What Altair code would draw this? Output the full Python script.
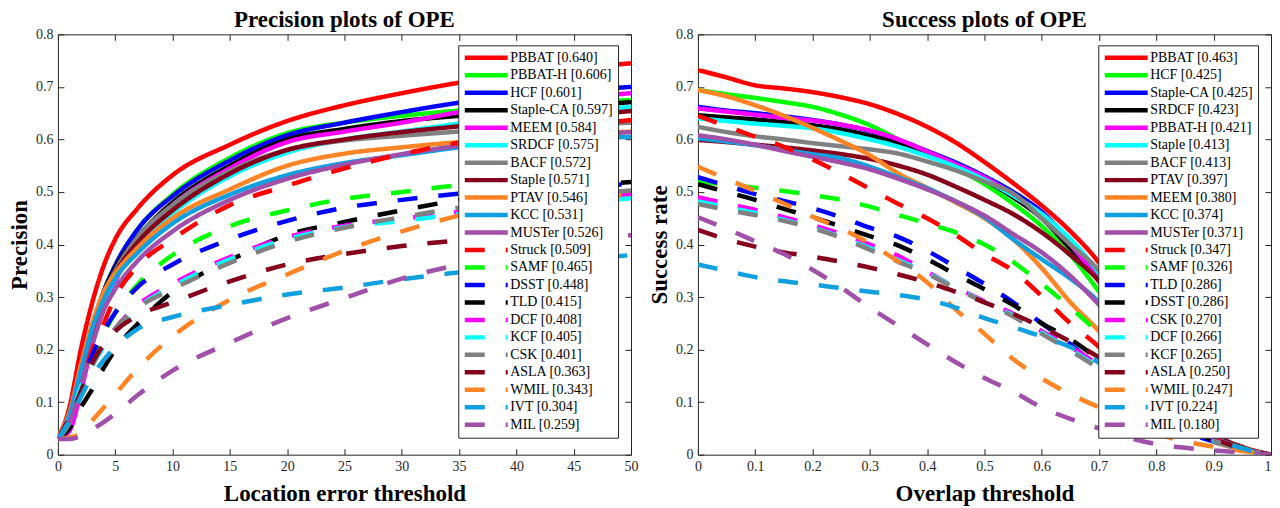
import altair as alt
import pandas as pd

FONT = "Liberation Serif"
INK = "#262626"

# ---------------- Precision plot data ----------------
prec_thresholds = [0, 1, 2, 3, 4, 5, 7, 10, 15, 20, 25, 30, 35, 50]
prec_names = ["PBBAT [0.640]", "PBBAT-H [0.606]", "HCF [0.601]", "Staple-CA [0.597]",
              "MEEM [0.584]", "SRDCF [0.575]", "BACF [0.572]", "Staple [0.571]",
              "PTAV [0.546]", "KCC [0.531]", "MUSTer [0.526]", "Struck [0.509]",
              "SAMF [0.465]", "DSST [0.448]", "TLD [0.415]", "DCF [0.408]",
              "KCF [0.405]", "CSK [0.401]", "ASLA [0.363]", "WMIL [0.343]",
              "IVT [0.304]", "MIL [0.259]"]
p_PBBAT = [0.03, 0.09, 0.20, 0.29, 0.36, 0.41, 0.47, 0.532, 0.59, 0.635, 0.665, 0.688, 0.708, 0.745]
p_PBBATH = [0.03, 0.075, 0.16, 0.24, 0.31, 0.36, 0.43, 0.495, 0.565, 0.612, 0.632, 0.645, 0.655, 0.675]
p_HCF = [0.03, 0.07, 0.15, 0.24, 0.31, 0.36, 0.43, 0.492, 0.56, 0.608, 0.632, 0.652, 0.67, 0.70]
p_StapleCA = [0.03, 0.07, 0.15, 0.24, 0.31, 0.355, 0.415, 0.48, 0.55, 0.60, 0.62, 0.635, 0.645, 0.671]
p_MEEM = [0.03, 0.045, 0.12, 0.21, 0.28, 0.33, 0.41, 0.475, 0.545, 0.595, 0.615, 0.632, 0.652, 0.688]
p_SRDCF = [0.03, 0.07, 0.15, 0.23, 0.29, 0.335, 0.40, 0.46, 0.53, 0.575, 0.60, 0.615, 0.63, 0.662]
p_BACF = [0.03, 0.075, 0.16, 0.24, 0.305, 0.35, 0.415, 0.475, 0.54, 0.58, 0.598, 0.607, 0.615, 0.632]
p_Staple = [0.03, 0.07, 0.15, 0.23, 0.30, 0.345, 0.405, 0.465, 0.535, 0.58, 0.60, 0.614, 0.625, 0.654]
p_PTAV = [0.035, 0.08, 0.17, 0.25, 0.31, 0.345, 0.395, 0.45, 0.505, 0.55, 0.573, 0.585, 0.595, 0.615]
p_KCC = [0.03, 0.075, 0.16, 0.24, 0.295, 0.335, 0.385, 0.44, 0.495, 0.532, 0.555, 0.57, 0.585, 0.605]
p_MUSTer = [0.03, 0.06, 0.13, 0.21, 0.275, 0.315, 0.37, 0.425, 0.485, 0.525, 0.552, 0.572, 0.588, 0.614]
p_Struck = [0.03, 0.07, 0.13, 0.20, 0.25, 0.30, 0.36, 0.41, 0.475, 0.512, 0.545, 0.572, 0.594, 0.637]
p_SAMF = [0.03, 0.06, 0.12, 0.18, 0.23, 0.27, 0.325, 0.38, 0.435, 0.465, 0.487, 0.50, 0.513, 0.536]
p_DSST = [0.03, 0.07, 0.13, 0.19, 0.235, 0.27, 0.32, 0.362, 0.41, 0.445, 0.47, 0.485, 0.497, 0.515]
p_TLD = [0.03, 0.05, 0.09, 0.125, 0.165, 0.20, 0.25, 0.31, 0.37, 0.418, 0.443, 0.465, 0.485, 0.519]
p_DCF = [0.03, 0.065, 0.13, 0.175, 0.21, 0.24, 0.285, 0.325, 0.376, 0.414, 0.436, 0.449, 0.462, 0.495]
p_KCF = [0.03, 0.065, 0.13, 0.17, 0.205, 0.235, 0.28, 0.32, 0.372, 0.41, 0.433, 0.445, 0.458, 0.488]
p_CSK = [0.03, 0.06, 0.12, 0.17, 0.21, 0.24, 0.28, 0.315, 0.365, 0.405, 0.432, 0.452, 0.47, 0.503]
p_ASLA = [0.03, 0.07, 0.12, 0.175, 0.21, 0.235, 0.265, 0.29, 0.33, 0.362, 0.382, 0.397, 0.408, 0.439]
p_WMIL = [0.03, 0.033, 0.04, 0.065, 0.09, 0.115, 0.165, 0.225, 0.295, 0.343, 0.388, 0.425, 0.455, 0.495]
p_IVT = [0.03, 0.065, 0.11, 0.15, 0.18, 0.205, 0.24, 0.262, 0.285, 0.305, 0.318, 0.334, 0.347, 0.38]
p_MIL = [0.03, 0.03, 0.035, 0.048, 0.062, 0.078, 0.114, 0.16, 0.213, 0.26, 0.298, 0.335, 0.362, 0.418]
prec_series = [p_PBBAT, p_PBBATH, p_HCF, p_StapleCA, p_MEEM, p_SRDCF, p_BACF, p_Staple,
               p_PTAV, p_KCC, p_MUSTer, p_Struck, p_SAMF, p_DSST, p_TLD, p_DCF, p_KCF,
               p_CSK, p_ASLA, p_WMIL, p_IVT, p_MIL]

# ---------------- Success plot data ----------------
succ_thresholds = [0.0, 0.05, 0.1, 0.15, 0.2, 0.25, 0.3, 0.35, 0.4, 0.45, 0.5,
                   0.55, 0.6, 0.65, 0.7, 0.75, 0.8, 0.85, 0.9, 0.95, 1.0]
succ_names = ["PBBAT [0.463]", "HCF [0.425]", "Staple-CA [0.425]", "SRDCF [0.423]",
              "PBBAT-H [0.421]", "Staple [0.413]", "BACF [0.413]", "PTAV [0.397]",
              "MEEM [0.380]", "KCC [0.374]", "MUSTer [0.371]", "Struck [0.347]",
              "SAMF [0.326]", "TLD [0.286]", "DSST [0.286]", "CSK [0.270]",
              "DCF [0.266]", "KCF [0.265]", "ASLA [0.250]", "WMIL [0.247]",
              "IVT [0.224]", "MIL [0.180]"]
s_PBBAT = [0.732, 0.718, 0.703, 0.697, 0.69, 0.68, 0.667, 0.648, 0.624, 0.594, 0.557, 0.517, 0.474, 0.425, 0.365, 0.28, 0.19, 0.10, 0.04, 0.015, 0.0]
s_HCF = [0.694, 0.686, 0.679, 0.671, 0.662, 0.647, 0.627, 0.60, 0.572, 0.545, 0.515, 0.478, 0.435, 0.38, 0.31, 0.23, 0.15, 0.08, 0.035, 0.012, 0.0]
s_StapleCA = [0.662, 0.655, 0.65, 0.644, 0.637, 0.628, 0.616, 0.599, 0.578, 0.556, 0.53, 0.50, 0.462, 0.405, 0.335, 0.25, 0.16, 0.085, 0.037, 0.013, 0.0]
s_SRDCF = [0.646, 0.642, 0.638, 0.633, 0.627, 0.619, 0.607, 0.593, 0.576, 0.552, 0.523, 0.49, 0.45, 0.392, 0.335, 0.25, 0.165, 0.09, 0.04, 0.013, 0.0]
s_PBBATH = [0.659, 0.653, 0.647, 0.641, 0.636, 0.628, 0.617, 0.60, 0.577, 0.553, 0.528, 0.495, 0.455, 0.40, 0.33, 0.245, 0.16, 0.085, 0.037, 0.013, 0.0]
s_Staple = [0.64, 0.635, 0.63, 0.626, 0.621, 0.612, 0.60, 0.586, 0.568, 0.548, 0.523, 0.493, 0.458, 0.41, 0.345, 0.26, 0.17, 0.09, 0.04, 0.014, 0.0]
s_BACF = [0.624, 0.614, 0.606, 0.60, 0.593, 0.587, 0.581, 0.573, 0.558, 0.541, 0.52, 0.497, 0.45, 0.40, 0.35, 0.27, 0.18, 0.095, 0.04, 0.014, 0.0]
s_PTAV = [0.599, 0.595, 0.59, 0.585, 0.579, 0.572, 0.563, 0.55, 0.533, 0.51, 0.485, 0.458, 0.423, 0.38, 0.33, 0.25, 0.17, 0.09, 0.04, 0.014, 0.0]
s_MEEM = [0.694, 0.682, 0.665, 0.645, 0.622, 0.597, 0.57, 0.535, 0.508, 0.48, 0.45, 0.41, 0.355, 0.29, 0.235, 0.17, 0.11, 0.06, 0.025, 0.01, 0.0]
s_KCC = [0.602, 0.596, 0.589, 0.58, 0.572, 0.564, 0.548, 0.528, 0.507, 0.482, 0.452, 0.41, 0.372, 0.335, 0.29, 0.22, 0.15, 0.08, 0.035, 0.012, 0.0]
s_MUSTer = [0.608, 0.60, 0.59, 0.578, 0.567, 0.556, 0.543, 0.525, 0.505, 0.482, 0.455, 0.42, 0.385, 0.34, 0.285, 0.22, 0.15, 0.085, 0.035, 0.012, 0.0]
s_Struck = [0.645, 0.625, 0.605, 0.586, 0.562, 0.535, 0.506, 0.477, 0.45, 0.418, 0.382, 0.35, 0.302, 0.25, 0.205, 0.15, 0.10, 0.06, 0.03, 0.012, 0.0]
s_SAMF = [0.52, 0.514, 0.508, 0.502, 0.494, 0.485, 0.472, 0.456, 0.44, 0.423, 0.40, 0.367, 0.325, 0.28, 0.23, 0.17, 0.11, 0.065, 0.032, 0.012, 0.0]
s_TLD = [0.528, 0.512, 0.496, 0.483, 0.469, 0.452, 0.432, 0.414, 0.388, 0.357, 0.325, 0.29, 0.25, 0.21, 0.165, 0.12, 0.08, 0.045, 0.025, 0.01, 0.0]
s_DSST = [0.515, 0.50, 0.485, 0.468, 0.452, 0.434, 0.416, 0.398, 0.372, 0.343, 0.315, 0.285, 0.25, 0.22, 0.18, 0.13, 0.085, 0.05, 0.027, 0.01, 0.0]
s_CSK = [0.49, 0.478, 0.466, 0.452, 0.437, 0.42, 0.40, 0.378, 0.348, 0.318, 0.292, 0.268, 0.235, 0.205, 0.17, 0.125, 0.085, 0.05, 0.027, 0.01, 0.0]
s_DCF = [0.482, 0.471, 0.46, 0.447, 0.432, 0.414, 0.393, 0.37, 0.345, 0.318, 0.29, 0.265, 0.232, 0.20, 0.165, 0.12, 0.08, 0.047, 0.026, 0.01, 0.0]
s_KCF = [0.477, 0.466, 0.456, 0.445, 0.431, 0.413, 0.39, 0.367, 0.344, 0.316, 0.29, 0.263, 0.23, 0.198, 0.163, 0.12, 0.08, 0.047, 0.026, 0.01, 0.0]
s_ASLA = [0.428, 0.41, 0.396, 0.385, 0.377, 0.367, 0.356, 0.343, 0.328, 0.31, 0.29, 0.268, 0.243, 0.215, 0.185, 0.14, 0.095, 0.055, 0.03, 0.012, 0.0]
s_WMIL = [0.548, 0.525, 0.502, 0.478, 0.453, 0.43, 0.402, 0.367, 0.328, 0.276, 0.23, 0.182, 0.145, 0.115, 0.09, 0.065, 0.04, 0.025, 0.015, 0.007, 0.0]
s_IVT = [0.362, 0.35, 0.338, 0.33, 0.324, 0.317, 0.31, 0.304, 0.295, 0.28, 0.26, 0.243, 0.225, 0.205, 0.175, 0.135, 0.095, 0.06, 0.032, 0.012, 0.0]
s_MIL = [0.452, 0.43, 0.406, 0.382, 0.352, 0.318, 0.28, 0.245, 0.21, 0.176, 0.146, 0.12, 0.09, 0.068, 0.05, 0.033, 0.02, 0.013, 0.008, 0.004, 0.0]
succ_series = [s_PBBAT, s_HCF, s_StapleCA, s_SRDCF, s_PBBATH, s_Staple, s_BACF, s_PTAV,
               s_MEEM, s_KCC, s_MUSTer, s_Struck, s_SAMF, s_TLD, s_DSST, s_CSK, s_DCF,
               s_KCF, s_ASLA, s_WMIL, s_IVT, s_MIL]

# ---------------- styles ----------------
palette = ["#FF0000", "#00FF00", "#0000FF", "#000000", "#FF00FF", "#00FFFF",
           "#808080", "#85001A", "#FF8426", "#10A0E0", "#A050A8"]
colors = palette + palette
dashes = [[1, 0]] * 11 + [[20, 21]] * 11

prec_ticks = [0, 5, 10, 15, 20, 25, 30, 35, 40, 45, 50]
succ_ticks = [0, 0.1, 0.2, 0.3, 0.4, 0.5, 0.6, 0.7, 0.8, 0.9, 1]
y_ticks = [0, 0.1, 0.2, 0.3, 0.4, 0.5, 0.6, 0.7, 0.8]

W, H = 574, 421


def make_table(thresholds, names, series):
    rows = []
    for i, (n, vals) in enumerate(zip(names, series)):
        for t, v in zip(thresholds, vals):
            rows.append({"t": t, "v": v, "name": n, "k": i})
    return pd.DataFrame(rows)


def axis(**kw):
    return alt.Axis(domain=False, grid=False, tickSize=6, tickColor=INK, tickWidth=1,
                    offset=-6, labelFont=FONT, labelFontSize=14, labelColor=INK,
                    labelFlush=False, titleFont=FONT, titleFontSize=23,
                    titleFontWeight="bold", titleColor="black", **kw)


def panel(df, names, xmax, xticks, xtitle, ytitle, title, last_label_right):
    xs = alt.Scale(domain=[0, xmax], nice=False, zero=False)
    ys = alt.Scale(domain=[0, 0.8], nice=False)
    leg = alt.Legend(title=None, orient="none", legendX=401, legendY=11,
                     direction="vertical", symbolType="stroke", symbolSize=1849,
                     symbolStrokeWidth=4.5, clipHeight=17, rowPadding=0.5,
                     labelFont=FONT, labelFontSize=14, labelColor="black",
                     labelOffset=0, labelLimit=300, fillColor="white",
                     strokeColor=INK, padding=4)
    xkw = dict(orient="bottom", values=xticks, format="~g", title=xtitle,
               labelPadding=5, titlePadding=9)
    if last_label_right:
        xkw["labelAlign"] = {"condition": {"test": f"datum.value >= {xmax}", "value": "right"},
                             "value": "center"}
    lines = alt.Chart(df).mark_line(strokeWidth=4.5, interpolate="monotone", clip=True).encode(
        x=alt.X("t:Q", scale=xs, axis=axis(**xkw)),
        y=alt.Y("v:Q", scale=ys, axis=axis(orient="left", values=y_ticks, format="~g",
                                           title=ytitle, labelPadding=5, titlePadding=3.7)),
        color=alt.Color("name:N", scale=alt.Scale(domain=names, range=colors), legend=leg),
        strokeDash=alt.StrokeDash("name:N", scale=alt.Scale(domain=names, range=dashes), legend=leg),
        order=alt.Order("k:Q"),
    )
    frame = alt.Chart(df).mark_line(opacity=0).encode(
        x=alt.X("t:Q", scale=xs, axis=axis(orient="top", values=xticks, labels=False, title=None)),
        y=alt.Y("v:Q", scale=ys, axis=axis(orient="right", values=y_ticks, labels=False, title=None)),
        detail="name:N",
    )
    return alt.layer(lines, frame).resolve_axis(x="independent", y="independent").properties(
        width=W, height=H,
        title=alt.Title(title, font=FONT, fontSize=23, fontWeight="bold", color="black", offset=-5),
    )


prec_df = make_table(prec_thresholds, prec_names, prec_series)
succ_df = make_table(succ_thresholds, succ_names, succ_series)

left = panel(prec_df, prec_names, 50, prec_ticks, "Location error threshold", "Precision",
             "Precision plots of OPE", False)
right = panel(succ_df, succ_names, 1, succ_ticks, "Overlap threshold", "Success rate",
              "Success plots of OPE", True)

chart = alt.hconcat(left, right, spacing=9).resolve_scale(
    color="independent", strokeDash="independent"
).configure_view(stroke=INK, strokeWidth=1).properties(padding=0)

chart.save("out.html", embed_options={"renderer": "svg", "actions": False})
